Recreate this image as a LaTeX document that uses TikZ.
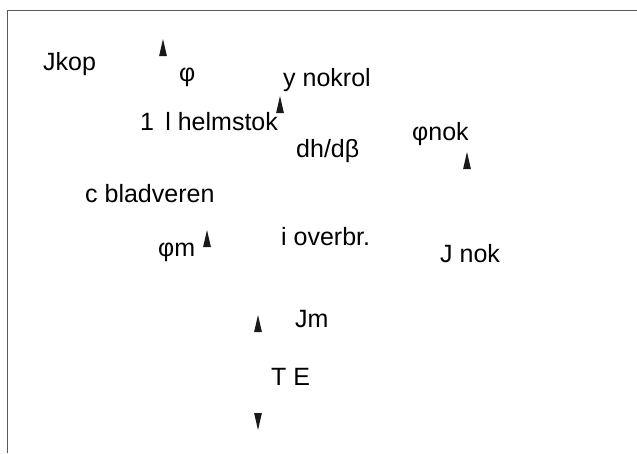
\documentclass[tikz,border=0pt]{standalone}
\usepackage{fontspec}
\setmainfont{Liberation Sans}
\begin{document}
\begin{tikzpicture}[x=1pt,y=-1pt,
  lbl/.style={anchor=base west,inner sep=0pt,font=\fontsize{25}{29}\selectfont,text=black},
  frameline/.style={draw=black!65,line width=0.9pt},
  uptri/.pic={\fill[black!90] (0,-9) -- (3.9,8) -- (-3.9,8) -- cycle;},
  downtri/.pic={\fill[black!90] (0,9) -- (3.9,-8) -- (-3.9,-8) -- cycle;}]
\useasboundingbox (0,0) rectangle (637,453);
\coordinate (fl) at (7,453);
\coordinate (fc) at (7,10);
\coordinate (fr) at (637,10);
\draw[frameline] (fl) -- (fc) -- (fr);
% labels
\node[lbl] (jkop) at (43,70) {Jkop};
\node[lbl] (phi) at (179,81) {φ};
\node[lbl] (ynok) at (283,86) {y nokrol};
\node[lbl] (helm) at (140,130) {1\hspace{0.45em}l helmstok};
\node[lbl] (dhdb) at (296,157) {dh/dβ};
\node[lbl] (phinok) at (412,140) {φnok};
\node[lbl] (blad) at (85,202) {c bladveren};
\node[lbl] (phim) at (158,256) {φm};
\node[lbl] (overbr) at (281,245) {i overbr.};
\node[lbl] (jnok) at (440,262) {J nok};
\node[lbl] (jm) at (295,327) {Jm};
\node[lbl] (te) at (271,385) {T E};
% markers
\pic (t1) at (163,48) {uptri};
\pic (t2) at (280,105) {uptri};
\pic (t3) at (467,161) {uptri};
\pic (t4) at (207,239) {uptri};
\pic (t5) at (258,324) {uptri};
\pic (t6) at (258,421) {downtri};
\end{tikzpicture}
\end{document}
